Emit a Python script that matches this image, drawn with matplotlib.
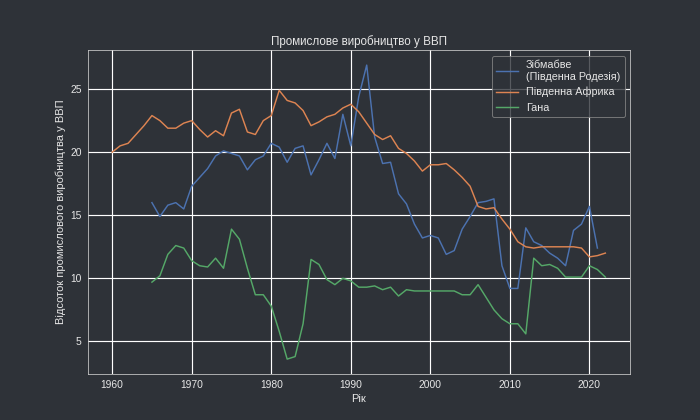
import numpy as np
import matplotlib
matplotlib.use('Agg')
import matplotlib.pyplot as plt

# data
years_sa = list(range(1960, 2023))
south_africa = [20.0, 20.5, 20.7, 21.4, 22.1, 22.9, 22.5, 21.9, 21.9, 22.3,
                22.5, 21.8, 21.2, 21.7, 21.3, 23.1, 23.4, 21.6, 21.4, 22.5,
                22.9, 24.9, 24.1, 23.9, 23.3, 22.1, 22.4, 22.8, 23.0, 23.5,
                23.8, 23.2, 22.3, 21.4, 21.0, 21.3, 20.3, 19.9, 19.3, 18.5,
                19.0, 19.0, 19.1, 18.6, 18.0, 17.3, 15.7, 15.5, 15.6, 14.7,
                13.9, 12.9, 12.5, 12.4, 12.5, 12.5, 12.5, 12.5, 12.5, 12.4,
                11.7, 11.8, 12.0]

years_zw = list(range(1965, 2022))
zimbabwe = [16.0, 14.9, 15.8, 16.0, 15.5, 17.3, 18.0, 18.7, 19.7, 20.1,
            19.9, 19.7, 18.6, 19.4, 19.7, 20.7, 20.4, 19.2, 20.3, 20.5,
            18.2, 19.4, 20.7, 19.5, 23.0, 20.5, 24.4, 26.9, 21.2, 19.1,
            19.2, 16.7, 15.9, 14.3, 13.2, 13.4, 13.2, 11.9, 12.2, 13.9,
            14.9, 16.0, 16.1, 16.3, 11.0, 9.2, 9.2, 14.0, 12.9, 12.6,
            12.0, 11.6, 11.0, 13.8, 14.3, 15.7, 12.4]

years_gh = list(range(1965, 2023))
ghana = [9.7, 10.2, 11.9, 12.6, 12.4, 11.4, 11.0, 10.9, 11.6, 10.8,
         13.9, 13.1, 10.8, 8.7, 8.7, 7.8, 5.8, 3.6, 3.8, 6.4,
         11.5, 11.1, 9.9, 9.5, 10.0, 9.8, 9.3, 9.3, 9.4, 9.1,
         9.3, 8.6, 9.1, 9.0, 9.0, 9.0, 9.0, 9.0, 9.0, 8.7,
         8.7, 9.5, 8.5, 7.5, 6.8, 6.4, 6.4, 5.6, 11.6, 11.0,
         11.1, 10.8, 10.1, 10.1, 10.1, 11.0, 10.7, 10.1]

bg = '#2e3238'
fg = '#e6e6e6'
plt.rcParams['font.family'] = ['Liberation Sans', 'DejaVu Sans']
plt.rcParams['text.color'] = fg
plt.rcParams['axes.labelcolor'] = fg
plt.rcParams['xtick.color'] = fg
plt.rcParams['ytick.color'] = fg

fig, ax = plt.subplots(figsize=(10, 6), dpi=70)
fig.patch.set_facecolor(bg)
ax.set_facecolor(bg)

ax.plot(years_zw, zimbabwe, color='#4c72b0', lw=1.5, label='Зібмабве\n(Південна Родезія)')
ax.plot(years_sa, south_africa, color='#dd8452', lw=1.5, label='Південна Африка')
ax.plot(years_gh, ghana, color='#55a868', lw=1.5, label='Гана')

ax.grid(True, color='white', lw=1.2)
ax.set_axisbelow(True)
for s in ax.spines.values():
    s.set_color('#cccccc')
ax.tick_params(length=0, pad=6, labelsize=10.5)

ax.set_title('Промислове виробництво у ВВП', fontsize=12)
ax.set_xlabel('Рік', fontsize=11.5)
ax.set_ylabel('Відсоток промислового виробництва у ВВП', fontsize=11.5)

leg = ax.legend(loc='upper right', facecolor=bg, edgecolor='#888888', fontsize=11)
for t in leg.get_texts():
    t.set_color(fg)

fig.savefig('out.png', dpi=70, facecolor=bg)
